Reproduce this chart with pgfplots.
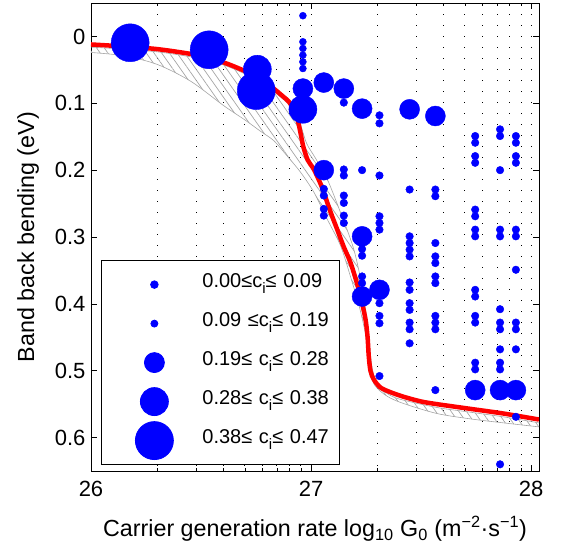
\documentclass[border=0pt]{standalone}
\usepackage{pgfplots}
\pgfplotsset{compat=1.18}
\usepgfplotslibrary{fillbetween}
\usetikzlibrary{patterns.meta}
\usepackage{fontspec}
\setmainfont{Liberation Sans}
\definecolor{mblue}{RGB}{0,0,255}
\definecolor{mred}{RGB}{255,0,0}
\definecolor{bandgray}{RGB}{165,165,165}
\pgfplotsset{dotleg/.style={legend image code/.code={\pgfinterruptboundingbox\draw[##1,only marks] plot coordinates {(0pt,0pt)};\endpgfinterruptboundingbox\path[draw=none,fill=none] (-50pt,-19.5pt) rectangle (46pt,19.5pt);}}}
\newcommand{\ci}{c\raisebox{-6pt}{\fontsize{15}{15}\selectfont i}}
\begin{document}
\begin{tikzpicture}
\begin{axis}[
  at={(0,0)}, anchor=south west,
  scale only axis, width=448pt, height=468pt,
  xmin=26, xmax=28.036, ymin=-0.05, ymax=0.65, y dir=reverse,
  xtick={26,27,28}, xticklabels={26,27,28},
  ytick={0,0.1,0.2,0.3,0.4,0.5,0.6}, yticklabels={0,0.1,0.2,0.3,0.4,0.5,0.6},
  minor xtick={26.301,26.477,26.602,26.699,26.778,26.845,26.903,26.954,27.301,27.477,27.602,27.699,27.778,27.845,27.903,27.954},
  tick align=inside, tick pos=both,
  major tick length=6pt, minor tick length=3pt,
  every tick/.style={black, line width=0.6pt},
  xmajorgrids, xminorgrids,
  major grid style={black, line width=0.9pt, dash pattern=on 0.9pt off 10.1pt},
  minor grid style={black, line width=0.9pt, dash pattern=on 0.9pt off 10.1pt},
  axis line style={line width=0.8pt},
  /pgf/number format/assume math mode=true,
  ticklabel style={font=\fontsize{22}{26}\selectfont},
  xticklabel style={yshift=-7pt},
  yticklabel style={xshift=-2pt},
  label style={font=\fontsize{23.3}{27}\selectfont},
  xlabel={Carrier generation rate log\textsubscript{10} G\textsubscript{0} (m\textsuperscript{−2}·s\textsuperscript{−1})},
  xlabel style={at={(axis description cs:0.5,0)}, anchor=base, yshift=-65.5pt},
  ylabel={Band back bending (eV)},
  ylabel style={at={(axis description cs:0,0.5)}, anchor=center, yshift=63pt},
  legend style={at={(axis description cs:0.0223,0.0128)}, anchor=south west,
    draw=black, line width=0.8pt, fill=white,
    inner xsep=3pt, inner ysep=4.5pt, row sep=0pt, column sep=0pt,
    font=\fontsize{20}{24}\selectfont,
    cells={anchor=mid west, text width=132pt, inner sep=0pt}},
]
% band
\addplot[name path=U, bandgray, line width=0.6pt, smooth, tension=0.5, forget plot] coordinates {
(26.0,0.016)(26.3,0.023)(26.537,0.036)(26.68,0.053)(26.785,0.072)(26.87,0.093)(26.92,0.11)(26.95,0.13)(26.98,0.16)(27.02,0.182)(27.073,0.213)(27.13,0.26)(27.194,0.318)(27.235,0.38)(27.26,0.44)(27.275,0.49)(27.3,0.52)(27.36,0.537)(27.42,0.544)(27.572,0.555)(27.723,0.562)(27.874,0.569)(28.036,0.578)};
\addplot[name path=L, bandgray, line width=0.6pt, smooth, tension=0.5, forget plot] coordinates {
(26.0,0.024)(26.151,0.029)(26.302,0.042)(26.453,0.067)(26.605,0.104)(26.70,0.125)(26.771,0.142)(26.831,0.156)(26.892,0.179)(26.952,0.203)(27.013,0.233)(27.073,0.273)(27.134,0.313)(27.18,0.36)(27.22,0.405)(27.25,0.45)(27.268,0.50)(27.29,0.522)(27.345,0.538)(27.42,0.549)(27.572,0.564)(27.723,0.572)(27.874,0.578)(28.036,0.584)};
\addplot[pattern={Lines[angle=-55,distance=6.3pt,line width=0.7pt]}, pattern color=bandgray, draw=none, forget plot] fill between[of=U and L];
% dots
\addplot[only marks, mark=*, mark size=3.8pt, color=mblue, dotleg] coordinates {
(27.058,0.228)(27.058,0.238)(27.058,0.258)(27.058,0.268)
(27.149,0.099)(27.149,0.199)(27.149,0.208)(27.149,0.238)(27.149,0.249)(27.149,0.268)(27.149,0.279)
(27.232,0.200)(27.232,0.318)(27.232,0.328)(27.232,0.359)(27.232,0.369)
(27.311,0.118)(27.311,0.130)(27.311,0.208)(27.311,0.269)(27.311,0.279)(27.311,0.289)(27.311,0.399)(27.311,0.418)(27.311,0.429)(27.311,0.508)
(27.448,0.229)(27.448,0.299)(27.448,0.309)(27.448,0.319)(27.448,0.329)(27.448,0.368)(27.448,0.379)(27.448,0.399)(27.448,0.409)(27.448,0.428)(27.448,0.438)(27.448,0.459)
(27.565,0.229)(27.565,0.239)(27.565,0.309)(27.565,0.329)(27.565,0.339)(27.565,0.359)(27.565,0.369)(27.565,0.418)(27.565,0.428)(27.565,0.438)(27.565,0.529)
(27.746,0.149)(27.746,0.159)(27.746,0.179)(27.746,0.189)(27.746,0.259)(27.746,0.269)(27.746,0.289)(27.746,0.299)(27.746,0.379)(27.746,0.389)(27.746,0.418)(27.746,0.428)(27.746,0.488)(27.746,0.498)
(27.859,0.139)(27.859,0.149)(27.859,0.200)(27.859,0.289)(27.859,0.299)(27.859,0.408)(27.859,0.428)(27.859,0.438)(27.859,0.468)(27.859,0.488)(27.859,0.498)(27.859,0.640)
(27.931,0.149)(27.931,0.159)(27.931,0.179)(27.931,0.189)(27.931,0.289)(27.931,0.299)(27.931,0.349)(27.931,0.428)(27.931,0.438)(27.931,0.468)(27.931,0.569)};
\addlegendentry{0.00≤\ci≤ 0.09}
\addplot[only marks, mark=*, mark size=3.5pt, color=mblue, dotleg] coordinates {
(26.963,-0.031)(26.963,0.008)(26.963,0.018)(26.963,0.028)(26.963,0.038)(26.963,0.048)};
\addlegendentry{0.09 ≤\ci≤ 0.19}
\addplot[only marks, mark=*, mark size=10pt, color=mblue, dotleg] coordinates {
(26.963,0.078)(27.058,0.069)(27.149,0.078)(27.232,0.108)(27.448,0.109)(27.565,0.119)(27.058,0.200)(27.232,0.299)(27.311,0.379)(27.232,0.389)(27.746,0.529)(27.859,0.529)(27.931,0.529)};
\addlegendentry{0.19≤ \ci≤ 0.28}
\addplot[only marks, mark=*, mark size=14pt, color=mblue, dotleg] coordinates {
(26.756,0.049)(26.963,0.109)};
\addlegendentry{0.28≤ \ci≤ 0.38}
\addplot[only marks, mark=*, mark size=19pt, color=mblue, dotleg] coordinates {
(26.178,0.0095)(26.537,0.020)(26.751,0.081)};
\addlegendentry{0.38≤ \ci≤ 0.47}
% red model curve
\addplot[mred, line width=4.5pt, smooth, tension=0.5, forget plot] coordinates {
(26.0,0.012)(26.15,0.015)(26.302,0.019)(26.45,0.026)(26.537,0.032)(26.62,0.041)(26.68,0.049)(26.74,0.058)(26.785,0.068)(26.83,0.078)(26.87,0.089)(26.9,0.098)(26.925,0.112)(26.94,0.126)(26.952,0.144)(26.965,0.165)(26.985,0.185)(27.013,0.199)(27.05,0.226)(27.088,0.262)(27.118,0.288)(27.149,0.315)(27.179,0.338)(27.205,0.365)(27.224,0.388)(27.247,0.422)(27.257,0.45)(27.262,0.477)(27.27,0.5)(27.285,0.513)(27.315,0.525)(27.36,0.532)(27.421,0.539)(27.5,0.546)(27.572,0.55)(27.723,0.557)(27.874,0.564)(28.036,0.573)};
\end{axis}
\pgfresetboundingbox
\path (-91pt,-76pt) rectangle (472pt,471pt);
\end{tikzpicture}
\end{document}
